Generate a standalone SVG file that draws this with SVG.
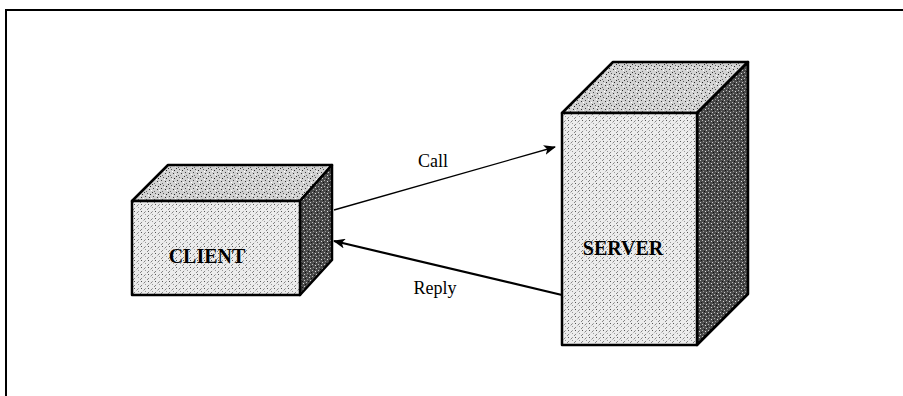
<svg xmlns="http://www.w3.org/2000/svg" width="903" height="396" viewBox="0 0 903 396">
<style>
.edge{stroke:#000;stroke-width:2.5;stroke-linejoin:round}
.front{fill:url(#hatch)}
.top{fill:url(#speck)}
.side{fill:url(#dark)}
.lbl{font-family:"Liberation Serif","Times New Roman",serif;fill:#000}
.bold{font-weight:bold}
.conn{stroke:#000;fill:none}
</style>
<defs>
<pattern id="hatch" width="7" height="7" patternUnits="userSpaceOnUse">
<rect width="7" height="7" fill="#ececec"/>
<path d="M0,7 L7,0" stroke="#777" stroke-width="0.9" stroke-dasharray="3 2"/>
<rect x="1" y="1" width="1" height="1" fill="#555"/>
<rect x="5" y="4" width="1" height="1" fill="#999"/>
</pattern>
<pattern id="speck" width="8" height="8" patternUnits="userSpaceOnUse">
<rect width="8" height="8" fill="#d2d2d2"/>
<rect x="0" y="0" width="1" height="1" fill="#333"/>
<rect x="3" y="1" width="1" height="1" fill="#555"/>
<rect x="6" y="2" width="1" height="1" fill="#222"/>
<rect x="1" y="4" width="1" height="1" fill="#444"/>
<rect x="5" y="5" width="1" height="1" fill="#333"/>
<rect x="2" y="7" width="1" height="1" fill="#666"/>
<rect x="7" y="6" width="1" height="1" fill="#fff"/>
<rect x="4" y="3" width="1" height="1" fill="#fff"/>
</pattern>
<pattern id="dark" width="6" height="6" patternUnits="userSpaceOnUse">
<rect width="6" height="6" fill="#4a4a4a"/>
<rect x="0" y="0" width="1" height="1" fill="#bbb"/>
<rect x="3" y="1" width="1" height="1" fill="#ddd"/>
<rect x="1" y="3" width="1" height="1" fill="#999"/>
<rect x="4" y="4" width="1" height="1" fill="#ccc"/>
<rect x="2" y="5" width="1" height="1" fill="#111"/>
<rect x="5" y="2" width="1" height="1" fill="#111"/>
</pattern>
<marker id="arrow" viewBox="0 0 12 10" refX="11" refY="5" markerWidth="12" markerHeight="10" markerUnits="userSpaceOnUse" orient="auto">
<path d="M0,0 L12,5 L0,10 L3,5 Z" fill="#000"/>
</marker>
</defs>
<rect width="903" height="396" fill="#fff"/>
<g id="frame">
<path d="M6,396 L6,10 L903,10" fill="none" stroke="#000" stroke-width="2"/>
</g>
<g id="client">
<polygon class="top edge" points="132,201 168,165 332,165 300,201"/>
<polygon class="side edge" points="300,201 332,165 332,260 300,295"/>
<rect class="front edge" x="132" y="201" width="168" height="94"/>
<text class="lbl bold" x="207" y="263" font-size="20" text-anchor="middle">CLIENT</text>
</g>
<g id="server">
<polygon class="top edge" points="562,113 613,62 748,62 697,113"/>
<polygon class="side edge" points="697,113 748,62 748,294 697,345"/>
<rect class="front edge" x="562" y="113" width="135" height="232"/>
<text class="lbl bold" x="623" y="255" font-size="20" text-anchor="middle">SERVER</text>
</g>
<g id="connectors">
<line class="conn" x1="334" y1="210" x2="555" y2="147" stroke-width="1.3" marker-end="url(#arrow)"/>
<line class="conn" x1="562" y1="295" x2="334" y2="241" stroke-width="2.2" marker-end="url(#arrow)"/>
<text class="lbl" x="433" y="167" font-size="18" text-anchor="middle">Call</text>
<text class="lbl" x="435" y="294" font-size="18" text-anchor="middle">Reply</text>
</g>
</svg>
